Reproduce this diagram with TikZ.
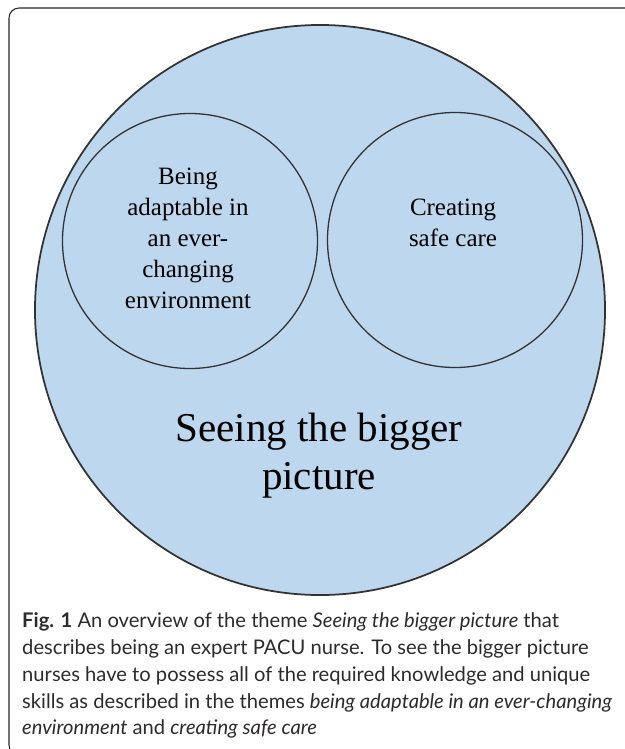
\documentclass[tikz,border=0pt]{standalone}
\usepackage{fontspec}
\setmainfont{Liberation Serif}
\newfontfamily\capfont{Lato}
\definecolor{themeblue}{RGB}{189,215,238}
\definecolor{capgrey}{RGB}{45,42,43}
\begin{document}
\begin{tikzpicture}[x=0.03cm,y=-0.03cm,
    theme/.style={circle,draw=black!80,inner sep=0pt},
    themetext/.style={align=center,inner sep=0pt}]
    \useasboundingbox (0,0) rectangle (625,749);
    \clip (0,0) rectangle (625,749);
    \draw[black!85,line width=0.9pt,rounded corners=0.3cm] (9,8) rectangle (670,755);
    \node[theme,fill=themeblue,line width=1.5pt,minimum size=17.1cm] (bigpic) at (320,310) {};
    \node[theme,line width=1.1pt,minimum size=7.65cm] (adapt) at (190,241) {};
    \node[theme,line width=1.1pt,minimum size=7.65cm] (safe) at (455,240) {};
    \node[themetext,font=\fontsize{21.3}{26.4}\selectfont] (adapttxt) at (188,238)
        {Being\\adaptable in\\an ever-\\changing\\environment};
    \node[themetext,font=\fontsize{21.3}{26.4}\selectfont] (safetxt) at (453,223)
        {Creating\\safe care};
    \node[themetext,font=\fontsize{35}{41}\selectfont] (bigtxt) at (319,456)
        {Seeing the bigger\\picture};
    % caption
    \node[anchor=north west,align=left,inner sep=0pt,text=capgrey,
        font=\capfont\fontsize{17.2}{23}\selectfont] (cap) at (22,612)
        {\textbf{Fig. 1} An overview of the theme \textit{Seeing the bigger picture} that\\
        describes being an expert PACU nurse. To see the bigger picture\\
        nurses have to possess all of the required knowledge and unique\\
        skills as described in the themes \textit{being adaptable in an ever-changing}\\
        \textit{environment} and \textit{creating safe care}};
\end{tikzpicture}
\end{document}
